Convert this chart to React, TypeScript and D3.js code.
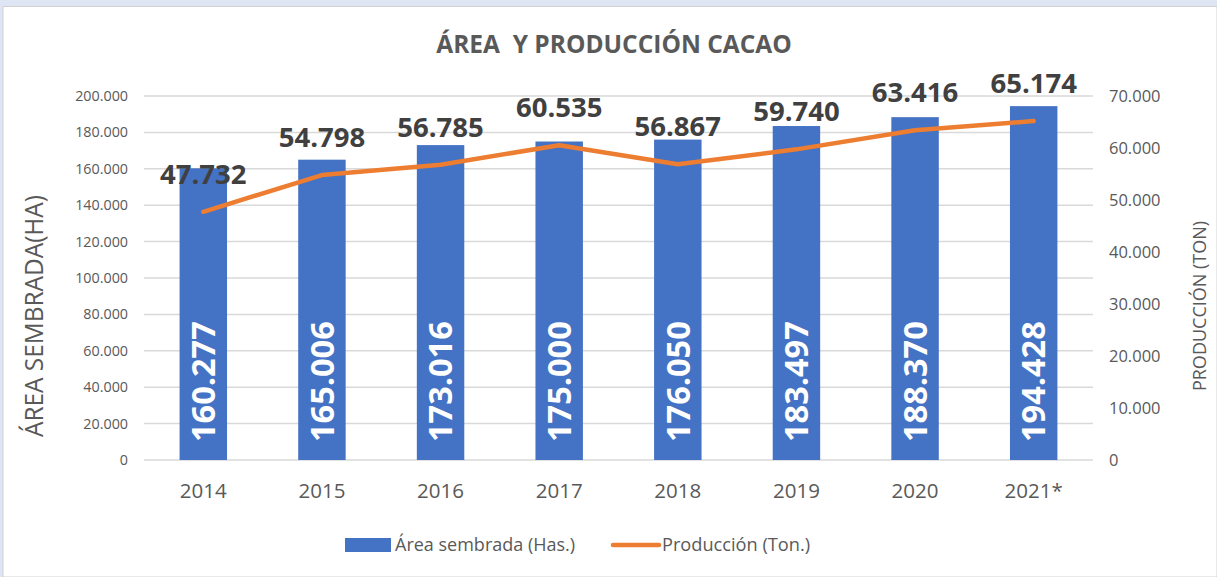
import React from "react";
import * as d3 from "d3";

const years = ["2014", "2015", "2016", "2017", "2018", "2019", "2020", "2021*"];
const areaSembrada = [160277, 165006, 173016, 175000, 176050, 183497, 188370, 194428];
const produccion = [47732, 54798, 56785, 60535, 56867, 59740, 63416, 65174];
const leftTicks = [0, 20000, 40000, 60000, 80000, 100000, 120000, 140000, 160000, 180000, 200000];
const rightTicks = [0, 10000, 20000, 30000, 40000, 50000, 60000, 70000];

const W = 1217;
const H = 577;
const FONT = "'Open Sans', 'Noto Sans', sans-serif";
const BLUE = "#4472C4";
const ORANGE = "#ED7D31";
const GRAY = "#595959";

const locale = d3.formatLocale({ decimal: ",", thousands: ".", grouping: [3], currency: ["$", ""] });
const fmt = locale.format(",d");

export default function App() {
  const left = 144, right = 1093, top = 96, bottom = 460;
  const x = d3.scaleBand<string>().domain(years).range([left, right]).paddingInner(0.6).paddingOuter(0.3);
  const yL = d3.scaleLinear().domain([0, 200000]).range([bottom, top]);
  const yR = d3.scaleLinear().domain([0, 70000]).range([bottom, top]);
  const cx = (d: string) => (x(d) as number) + x.bandwidth() / 2;
  const line = d3.line<number>().x((_, i) => cx(years[i])).y((v) => yR(v));

  return (
    <div style={{ position: "fixed", left: 0, top: 0 }}>
      <svg width={W} height={H} style={{ display: "block", fontFamily: FONT }}>
        <rect x={0} y={0} width={W} height={H} fill="#dde6f2" />
        <rect x={3} y={6.5} width={W - 3} height={H - 6.5} fill="#ffffff" stroke="#d0d0d0" strokeWidth={1} />
        <text x={614} y={53} textAnchor="middle" fontSize={24.5} fontWeight="bold" fill={GRAY} style={{ whiteSpace: "pre" }}>
          {"ÁREA  Y PRODUCCIÓN CACAO"}
        </text>
        {leftTicks.map((t) => (
          <g key={"g" + t}>
            <line x1={left} x2={right} y1={yL(t)} y2={yL(t)} stroke="#d9d9d9" strokeWidth={1.5} />
            <text x={128} y={yL(t)} dy="0.35em" textAnchor="end" fontSize={14.3} fill={GRAY}>
              {fmt(t)}
            </text>
          </g>
        ))}
        {rightTicks.map((t) => (
          <text key={"r" + t} x={1109} y={yR(t)} dy="0.35em" textAnchor="start" fontSize={16.5} fill={GRAY}>
            {fmt(t)}
          </text>
        ))}
        {years.map((yr, i) => (
          <g key={yr}>
            <rect x={x(yr)} y={yL(areaSembrada[i])} width={x.bandwidth()} height={bottom - yL(areaSembrada[i])} fill={BLUE} />
            <text
              transform={`translate(${cx(yr)},442) rotate(-90)`}
              dy="0.36em"
              textAnchor="start"
              fontSize={32.5}
              fontWeight="bold"
              fill="#ffffff"
            >
              {fmt(areaSembrada[i])}
            </text>
            <text x={cx(yr)} y={498} textAnchor="middle" fontSize={20.5} fill={GRAY}>
              {yr}
            </text>
          </g>
        ))}
        <path d={line(produccion) || ""} fill="none" stroke={ORANGE} strokeWidth={4.5} strokeLinejoin="round" strokeLinecap="round" />
        {years.map((yr, i) => (
          <text key={"p" + yr} x={cx(yr)} y={yR(produccion[i]) - 28} textAnchor="middle" fontSize={27.5} fontWeight="bold" fill="#404040">
            {fmt(produccion[i])}
          </text>
        ))}
        <text transform="translate(34,316) rotate(-90)" dy="0.357em" textAnchor="middle" fontSize={26} fill={GRAY} textLength={242} lengthAdjust="spacingAndGlyphs">
          ÁREA SEMBRADA(HA)
        </text>
        <text transform="translate(1200,306) rotate(-90)" dy="0.35em" textAnchor="middle" fontSize={18} fill={GRAY}>
          PRODUCCIÓN (TON)
        </text>
        <rect x={345} y={538} width={46} height={14} fill={BLUE} />
        <text x={395} y={551} fontSize={18} fill={GRAY}>
          Área sembrada (Has.)
        </text>
        <line x1={613} x2={659} y1={545} y2={545} stroke={ORANGE} strokeWidth={4.5} strokeLinecap="round" />
        <text x={662} y={551} fontSize={18.2} fill={GRAY}>
          Producción (Ton.)
        </text>
      </svg>
    </div>
  );
}
